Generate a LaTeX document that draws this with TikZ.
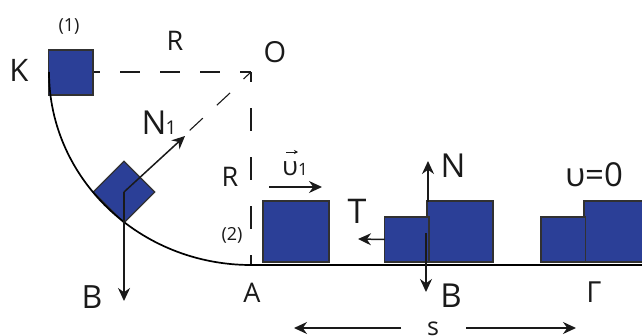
\documentclass[tikz,border=0pt]{standalone}
\usepackage{fontspec}
\setmainfont{Open Sans}
\usetikzlibrary{arrows.meta}
\definecolor{blk}{HTML}{2B3F97}
\definecolor{ink}{HTML}{1A1A1A}
\tikzset{
  block/.style={draw=ink!90,line width=1.3pt,fill=blk,inner sep=0pt,outer sep=0pt},
  dash line/.style={draw=ink,line width=1.1pt},
  force/.style={draw=ink,line width=1.5pt,-{Stealth[length=13pt,width=12pt]}},
  lab/.style={inner sep=0pt,text=ink,anchor=base},
}
\begin{document}
\begin{tikzpicture}[x=1pt,y=-1pt]
\useasboundingbox (0,0) rectangle (642,335);
\fill[white] (0,0) rectangle (642,335);
% coordinates
\coordinate (O) at (251,72);
\coordinate (Aa) at (251,265);
\coordinate (Kk) at (49,72);
\coordinate (E) at (642,265);
% dashed radii
\draw[dash line,dash pattern=on 20pt off 20pt,dash phase=13pt] (93,72) -- (O);
\draw[dash line,dash pattern=on 23pt off 26pt,dash phase=13pt] (O) -- (Aa);
\draw[dash line,dash pattern=on 18pt off 19pt] (230,93) -- (189,131);
\draw[ink,line width=1.1pt] (243.5,79) -- (O);
% blocks
\node[block,minimum width=44.5pt,minimum height=45pt,anchor=north west] (b1) at (48.5,50) {};
\node[block,minimum width=43.5pt,minimum height=43.5pt,rotate=45] (b2) at (124,192) {};
\node[block,minimum width=66pt,minimum height=61pt,anchor=north west] (b3) at (263,201) {};
\node[block,minimum width=66pt,minimum height=61pt,anchor=north west] (b4) at (427,201) {};
\node[block,minimum width=44.5pt,minimum height=45pt,anchor=north west] (b5) at (384.5,217) {};
\node[block,minimum width=66pt,minimum height=61pt,anchor=north west] (b6) at (584,201) {};
\node[block,minimum width=44.5pt,minimum height=45pt,anchor=north west] (b7) at (541,217) {};
\useasboundingbox (0,0) rectangle (642,335);
% curve and ground
\draw[black,line width=1.7pt] (Kk) .. controls (49,178) and (139,265) .. (Aa) -- (E);
% force arrows
\coordinate (c2) at (b2.center);
\draw[force] (c2) -- (185,136);
\draw[force] (c2) -- (124,301);
\draw[force] (269,187) -- (322,187);
\draw[force] (428,202) -- (428,161);
\draw[force] (426,233) -- (426,292);
\draw[force] (b5.west) -- (358,239);
\coordinate (sl) at (401,328);
\coordinate (sr) at (466,328);
\draw[force] (sl) -- (294,328);
\draw[force] (sr) -- (576,328);
% labels
\node[lab,font=\fontsize{18}{18}\selectfont] (t1) at (69,31) {(1)};
\node[lab,font=\fontsize{18}{18}\selectfont] (t2) at (232,240) {(2)};
\node[lab,font=\fontsize{31}{31}\selectfont] (tK) at (19,81) {K};
\node[lab,font=\fontsize{27}{27}\selectfont] (tR1) at (175,50) {R};
\node[lab,font=\fontsize{29}{29}\selectfont] (tO) at (275,62) {O};
\node[lab,font=\fontsize{33}{33}\selectfont] (tN1) at (154,134) {N};
\node[lab,font=\fontsize{19}{19}\selectfont] (tn) at (171,134) {1};
\node[lab,font=\fontsize{27}{27}\selectfont] (tR2) at (230,186) {R};
\node[lab,font=\fontsize{32}{32}\selectfont] (tB1) at (92,308) {B};
\node[lab,font=\fontsize{27}{27}\selectfont] (tA) at (252,302) {A};
\node[lab,font=\fontsize{26}{26}\selectfont] (tu) at (290,175) {υ};
\node[lab,font=\fontsize{17}{17}\selectfont] (tu1) at (303,175) {1};
\draw[ink,line width=0.9pt,-{Stealth[length=4pt,width=4pt]}] (286,152) -- (298,152);
\node[lab,font=\fontsize{34}{34}\selectfont] (tT) at (357,223) {T};
\node[lab,font=\fontsize{33}{33}\selectfont] (tN) at (453,177) {N};
\node[lab,font=\fontsize{33}{33}\selectfont] (tB2) at (451,307) {B};
\node[lab,font=\fontsize{29}{29}\selectfont] (tG) at (594,302) {Γ};
\node[lab,font=\fontsize{33}{33}\selectfont] (tv) at (594,186) {υ=0};
\node[lab,font=\fontsize{25}{25}\selectfont] (ts) at (433,335) {s};
\end{tikzpicture}
\end{document}
